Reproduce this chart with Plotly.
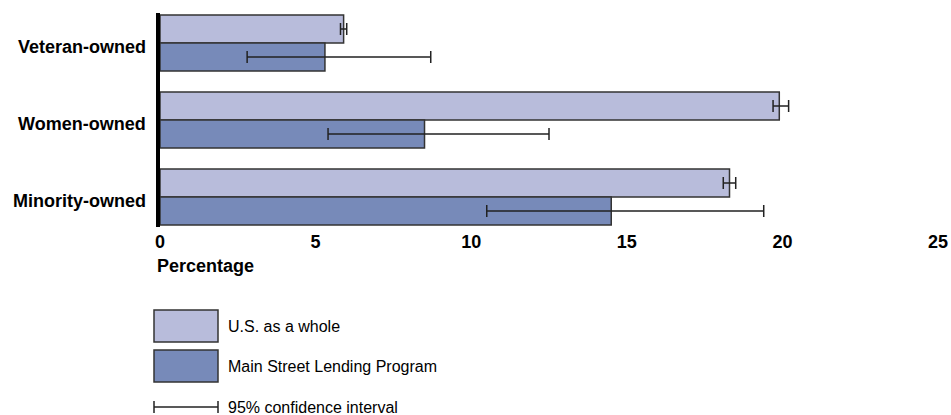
import plotly.graph_objects as go

# Data (percent of firms)
categories = ['Veteran-owned', 'Women-owned', 'Minority-owned']
us_vals = [5.9, 19.9, 18.3]
us_lo = [5.8, 19.7, 18.1]
us_hi = [6.0, 20.2, 18.5]
msl_vals = [5.3, 8.5, 14.5]
msl_lo = [2.8, 5.4, 10.5]
msl_hi = [8.7, 12.5, 19.4]
x_ticks = [0, 5, 10, 15, 20, 25]

LIGHT = '#b8bcdb'
DARK = '#778ab9'
EDGE = '#333333'
FONT = 'Liberation Sans, Arial, sans-serif'

fig = go.Figure()
fig.add_trace(go.Bar(
    y=categories, x=us_vals, orientation='h', name='U.S. as a whole',
    marker=dict(color=LIGHT, line=dict(color=EDGE, width=1.5)),
    error_x=dict(type='data', symmetric=False,
                 array=[h - v for h, v in zip(us_hi, us_vals)],
                 arrayminus=[v - l for v, l in zip(us_vals, us_lo)],
                 color='#222222', thickness=1.5, width=6),
))
fig.add_trace(go.Bar(
    y=categories, x=msl_vals, orientation='h', name='Main Street Lending Program',
    marker=dict(color=DARK, line=dict(color=EDGE, width=1.5)),
    error_x=dict(type='data', symmetric=False,
                 array=[h - v for h, v in zip(msl_hi, msl_vals)],
                 arrayminus=[v - l for v, l in zip(msl_vals, msl_lo)],
                 color='#222222', thickness=1.5, width=6),
))

fig.update_layout(
    width=951, height=415,
    margin=dict(l=160, r=13, t=13, b=188, autoexpand=False),
    barmode='group', bargap=0.27, bargroupgap=0,
    plot_bgcolor='white', paper_bgcolor='white',
    showlegend=False,
    font=dict(family=FONT, color='black'),
)
fig.update_xaxes(
    range=[0, 25], tickvals=x_ticks, showgrid=False, zeroline=False,
    showline=False, ticks='', ticklabelstandoff=2, automargin=False,
    tickfont=dict(size=18, family=FONT, weight='bold'),
)
fig.update_yaxes(
    categoryorder='array', categoryarray=categories,
    range=[2.39, -0.39], showgrid=False, zeroline=False,
    showline=True, linecolor='black', linewidth=4,
    ticks='', showticklabels=False, automargin=False,
)

# category labels, sitting a touch below the group centre like the original
for cat in categories:
    fig.add_annotation(text='<b>%s</b>' % cat, xref='paper', yref='y',
                       x=-0.016, y=cat, xanchor='right', yanchor='middle',
                       yshift=-4, showarrow=False, font=dict(size=18, family=FONT))

fig.add_annotation(text='<b>Percentage</b>', xref='paper', yref='paper',
                   x=-0.007, y=-0.18, xanchor='left', yanchor='middle',
                   showarrow=False, font=dict(size=18, family=FONT))

# hand-drawn legend below the plot (positions in reference pixels)
def px_x(p):
    return (p - 160) / 778.0

def px_y(p):
    return (227 - p) / 214.0

for top, color, label in [(310, LIGHT, 'U.S. as a whole'),
                          (350, DARK, 'Main Street Lending Program')]:
    fig.add_shape(type='rect', xref='paper', yref='paper',
                  x0=px_x(154), x1=px_x(218), y0=px_y(top), y1=px_y(top + 32),
                  fillcolor=color, line=dict(color=EDGE, width=1.5))
    fig.add_annotation(text=label, xref='paper', yref='paper',
                       x=px_x(226), y=px_y(top + 16), xanchor='left', yanchor='middle',
                       showarrow=False, font=dict(size=16, family=FONT))

fig.add_shape(type='line', xref='paper', yref='paper',
              x0=px_x(154), x1=px_x(218), y0=px_y(407), y1=px_y(407),
              line=dict(color='#222222', width=1.5))
for xc in (154, 218):
    fig.add_shape(type='line', xref='paper', yref='paper',
                  x0=px_x(xc), x1=px_x(xc), y0=px_y(401), y1=px_y(413),
                  line=dict(color='#222222', width=1.5))
fig.add_annotation(text='95% confidence interval', xref='paper', yref='paper',
                   x=px_x(226), y=px_y(407), xanchor='left', yanchor='middle',
                   showarrow=False, font=dict(size=16, family=FONT))

# drop the default body margin so the 951x415 figure fills the window exactly
fig.write_html('out.html',
               config=dict(displayModeBar=False, responsive=False),
               post_script="document.body.style.margin='0';document.body.style.overflow='hidden';")
